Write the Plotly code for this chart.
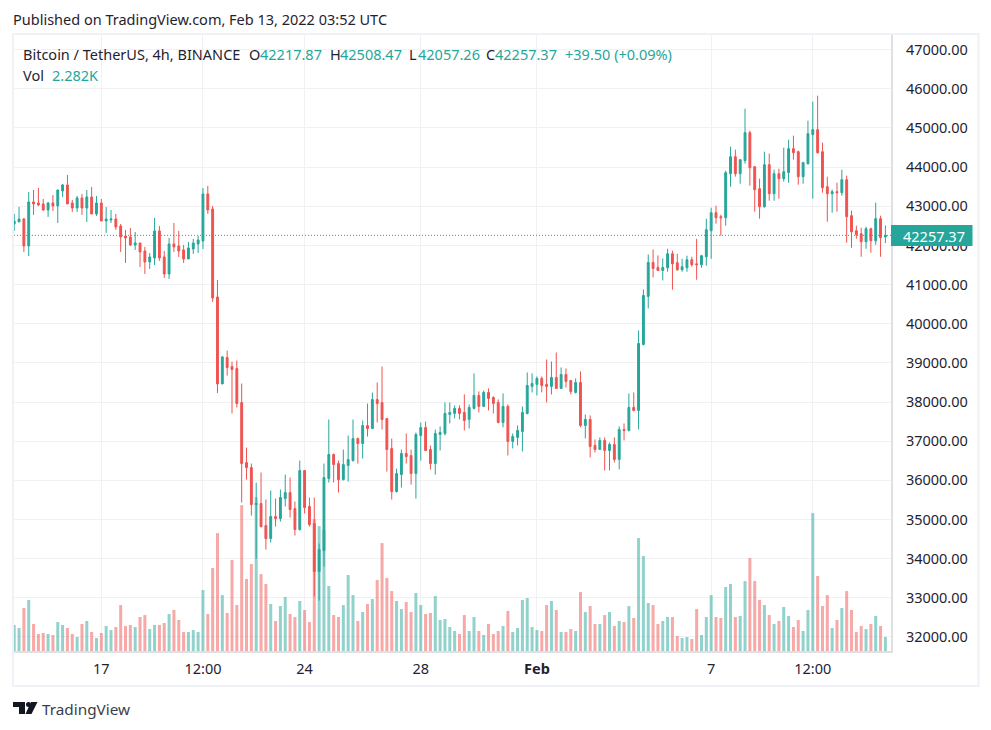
#!/usr/bin/env python3
"""BTC/USDT 4h candles with volume, TradingView snapshot look."""
import pandas as pd
import plotly.graph_objects as go

W, H = 991, 730
FONT = "Noto Sans"
TEXT = "#1f2330"
GREEN = "#26a69a"
RED = "#ef5350"
GREEN_VOL = "rgba(38,166,154,0.5)"
RED_VOL = "rgba(239,83,80,0.5)"
GRID = "#f1f1f4"
EDGE = "#dfdfe4"

first_bar = "2022-01-14 00:00"

opens = [
    42549, 42600, 42676, 41987, 43111, 43085, 43060, 42906, 43085, 43009,
    43392, 43545, 43085, 42957, 43213, 42957, 43238, 42804, 43085, 42625,
    42651, 42676, 42498, 42242, 42217, 42012, 42063, 41859, 41578, 41680,
    42370, 41706, 41272, 42038, 41987, 41885, 41655, 41910, 42038, 42115,
    43315, 42932, 40684, 38462, 39136, 38906, 38855, 37987, 36454, 36327,
    35382, 35407, 34845, 34513, 35075, 35024, 35535, 35688, 35279, 34743,
    36250, 35330, 34896, 33670, 34207, 36046, 36659, 36429, 36020, 36378,
    36505, 37067, 36940, 37399, 37323, 38063, 37987, 37578, 36812, 35714,
    36148, 36684, 36633, 36173, 37144, 37348, 36786, 36429, 37173, 37198,
    37683, 37709, 37837, 37735, 37556, 37837, 38169, 37888, 38245, 38118,
    37990, 37479, 37888, 36994, 37096, 37249, 37709, 38399, 38450, 38603,
    38450, 38399, 38628, 38348, 38705, 38552, 38245, 38501, 37402, 37556,
    36892, 36789, 37019, 36764, 36917, 36534, 37300, 37275, 37862, 37786,
    39471, 40697, 41566, 41438, 41361, 41430, 41788, 41558, 41379, 41430,
    41635, 41532, 41507, 41711, 42376, 42836, 42734, 42708, 43833, 44267,
    43833, 44165, 44881, 44012, 43449, 42989, 44063, 43322, 43833, 43705,
    43858, 44472, 44395, 43756, 44088, 44830, 44957, 44395, 43500, 43322,
    43373, 43347, 43679, 42759, 42376, 42299, 42095, 42427, 42120, 42683,
    42217.87,
]
highs = [
    42804, 42983, 42702, 43366, 43417, 43468, 43187, 43111, 43289, 43417,
    43570, 43800, 43162, 43264, 43315, 43417, 43494, 43264, 43187, 42983,
    42906, 42804, 42549, 42396, 42447, 42344, 42063, 41961, 41808, 42702,
    42498, 41859, 42191, 42574, 42370, 42012, 42089, 42166, 42242, 43468,
    43519, 43009, 41118, 39177, 39315, 39034, 39060, 38472, 36837, 36429,
    35943, 36199, 35509, 35739, 35535, 35765, 36148, 36071, 35458, 36505,
    36250, 35560, 35560, 34385, 36429, 37553, 36684, 36505, 36786, 37144,
    37553, 37093, 37527, 37961, 38242, 38498, 38906, 37578, 37067, 36301,
    36786, 37195, 36786, 37221, 37476, 37501, 36889, 37297, 37377, 37990,
    37990, 37913, 37913, 38194, 37939, 38731, 38271, 38296, 38348, 38143,
    38067, 38220, 37939, 37198, 37402, 37888, 38756, 38731, 38654, 38654,
    39088, 39037, 39267, 38884, 38858, 38552, 38603, 38782, 37683, 37658,
    37045, 37096, 37096, 36968, 37096, 37377, 37454, 38220, 38245, 39829,
    40876, 41770, 41898, 41745, 41668, 41916, 41865, 41788, 41660, 41737,
    41711, 42171, 41762, 42683, 42964, 43015, 42785, 43909, 44523, 44446,
    44191, 45494, 44932, 44012, 43705, 44395, 44344, 43935, 43961, 44497,
    44702, 44804, 44421, 44139, 45187, 45673, 45826, 44625, 43756, 43424,
    43603, 43935, 43782, 42887, 42504, 42453, 42478, 42453, 43092, 42759,
    42508.47,
]
lows = [
    42370, 42600, 41834, 41731, 42779, 43009, 42881, 42728, 42881, 42574,
    43238, 43060, 42855, 42855, 42779, 42600, 42804, 42753, 42625, 42319,
    42574, 42396, 41834, 41553, 41987, 41885, 41450, 41272, 41399, 41501,
    41604, 41170, 41144, 41834, 41706, 41553, 41655, 41783, 41808, 41910,
    42804, 40557, 38232, 38462, 38676, 37706, 37859, 35433, 36020, 35101,
    34002, 34794, 34232, 34411, 34820, 34947, 35330, 35049, 34590, 34717,
    35152, 34820, 33032, 32930, 33798, 35943, 35943, 35688, 35995, 35969,
    36480, 36429, 36557, 37118, 37323, 37476, 37297, 36224, 35509, 35688,
    35816, 36429, 35892, 35535, 36505, 36761, 36276, 36148, 36764, 37147,
    37454, 37581, 37556, 37275, 37326, 37811, 37735, 37888, 37786, 37709,
    37454, 37351, 36636, 36815, 36892, 36738, 37683, 38245, 38169, 38245,
    37990, 38194, 38348, 38348, 38373, 38194, 38220, 37351, 37070, 36585,
    36713, 36789, 36253, 36253, 36457, 36279, 37019, 37249, 37760, 37300,
    39446, 40391, 41183, 41361, 41106, 41328, 40868, 41353, 41328, 41328,
    41456, 41123, 41430, 41481, 41660, 42555, 42248, 42504, 43500, 43756,
    43577, 44088, 43526, 42861, 42683, 42964, 43143, 43143, 43194, 43628,
    43603, 44191, 43552, 43577, 44063, 43194, 44344, 43347, 42606, 42836,
    42861, 43270, 42069, 41941, 42171, 41711, 41916, 41814, 42018, 41711,
    42057.26,
]
closes = [
    42625, 42676, 41987, 43111, 43060, 43034, 42906, 43085, 43009, 43417,
    43545, 43060, 42957, 43213, 42957, 43238, 42804, 43085, 42625, 42676,
    42676, 42472, 42217, 42191, 42012, 42063, 41834, 41578, 41706, 42370,
    41680, 41272, 42038, 41961, 41859, 41655, 41936, 42063, 42140, 43315,
    42906, 40659, 38462, 39152, 38881, 38830, 37961, 36429, 36327, 35382,
    35407, 34820, 34513, 35075, 35024, 35560, 35688, 35254, 34743, 36250,
    35305, 34871, 33670, 34232, 36071, 36659, 36403, 36020, 36403, 36531,
    37067, 36940, 37399, 37323, 38063, 37961, 37553, 36786, 35714, 36173,
    36684, 36608, 36173, 37170, 37348, 36761, 36429, 37195, 37224, 37709,
    37735, 37837, 37709, 37530, 37862, 38169, 37888, 38245, 38092, 37964,
    37479, 37888, 36994, 37122, 37275, 37735, 38424, 38475, 38603, 38424,
    38399, 38628, 38348, 38705, 38526, 38271, 38501, 37402, 37556, 36866,
    36789, 37019, 36764, 36917, 36534, 37300, 37275, 37862, 37786, 39497,
    40723, 41566, 41413, 41361, 41438, 41788, 41532, 41379, 41456, 41635,
    41507, 41507, 41737, 42401, 42836, 42708, 42708, 43858, 44267, 43833,
    44191, 44881, 43986, 43424, 42989, 44063, 43322, 43833, 43705, 43884,
    44472, 44370, 43756, 44114, 44855, 44957, 44370, 43475, 43322, 43373,
    43347, 43679, 42734, 42350, 42274, 42095, 42427, 42120, 42683, 42197,
    42257.37,
]
# volume in thousands of BTC
volumes = [
    4.24, 3.75, 7.00, 8.31, 4.40, 2.77, 2.93, 2.77, 2.61, 4.72,
    4.24, 3.75, 2.77, 2.28, 4.40, 4.89, 3.10, 2.12, 2.93, 4.07,
    3.42, 3.91, 7.49, 4.07, 4.24, 3.91, 5.54, 5.86, 3.58, 4.24,
    4.24, 4.56, 6.03, 6.68, 5.05, 3.10, 3.10, 3.42, 3.10, 9.94,
    6.03, 13.52, 19.22, 9.12, 6.19, 14.82, 7.49, 23.78, 11.73, 14.17,
    25.09, 12.54, 10.91, 7.66, 4.89, 7.33, 8.80, 6.03, 5.54, 8.15,
    6.68, 4.72, 21.50, 20.36, 19.71, 10.59, 5.86, 5.54, 7.49, 12.38,
    9.12, 4.89, 6.35, 7.66, 8.47, 11.57, 17.59, 11.89, 9.77, 8.15,
    6.84, 7.98, 6.35, 9.45, 7.49, 6.03, 6.19, 8.96, 5.05, 5.21,
    3.91, 3.26, 2.77, 5.86, 3.26, 5.54, 3.26, 2.61, 4.40, 2.77,
    3.26, 4.07, 6.52, 3.10, 3.75, 8.31, 8.63, 3.91, 3.42, 3.26,
    7.49, 8.15, 6.68, 3.10, 3.10, 3.58, 3.26, 9.61, 6.35, 7.33,
    4.40, 4.40, 5.86, 6.35, 4.07, 4.89, 4.72, 7.33, 5.38, 18.41,
    15.48, 7.82, 7.49, 4.40, 4.89, 5.54, 5.54, 2.44, 2.12, 2.28,
    1.95, 6.84, 2.61, 5.54, 9.12, 5.54, 5.38, 10.43, 10.91, 5.54,
    5.70, 11.40, 15.15, 11.40, 8.31, 7.49, 5.86, 4.40, 4.89, 7.17,
    5.70, 3.91, 5.05, 3.26, 6.68, 22.48, 12.22, 7.33, 9.12, 3.75,
    5.05, 7.00, 9.77, 6.68, 3.10, 4.07, 3.58, 4.40, 5.70, 4.07,
    2.28,
]
tick_dates = ["2022-01-17 00:00", "2022-01-20 12:00", "2022-01-24 00:00", "2022-01-28 00:00",
              "2022-02-01 00:00", "2022-02-07 00:00", "2022-02-10 12:00"]
tick_labels = ["17", "12:00", "24", "28", "<b>Feb</b>", "7", "12:00"]
price_range = [31641, 47375]
volume_range = [0, 100.4]
time_range = ["2022-01-13 23:50", "2022-02-13 04:38"]


def px(x):
    return x / W


def py(y):
    return 1 - y / H


def label(x, y, text, color=TEXT, size=14.5):
    # annotations carry about 2px of padding on the left
    return dict(xref="paper", yref="paper", x=px(x - 2), y=py(y), text=text, showarrow=False,
                xanchor="left", yanchor="middle", align="left",
                font=dict(family=FONT, size=size, color=color))


def box(x0, y0, x1, y1, **kw):
    return dict(type="rect", xref="paper", yref="paper", x0=px(x0), y0=py(y0), x1=px(x1), y1=py(y1), **kw)


def poly(points, color):
    path = "M " + " L ".join(f"{px(a):.5f},{py(b):.5f}" for a, b in points) + " Z"
    return dict(type="path", xref="paper", yref="paper", path=path,
                fillcolor=color, line=dict(width=0))


times = pd.date_range(first_bar, periods=len(closes), freq="4h")
vol_colors = [GREEN_VOL if c >= o else RED_VOL for o, c in zip(opens, closes)]

fig = go.Figure()
fig.add_trace(go.Bar(x=times, y=volumes, marker=dict(color=vol_colors, line=dict(width=0)),
                     yaxis="y", hoverinfo="skip"))
fig.add_trace(go.Candlestick(
    x=times, open=opens, high=highs, low=lows, close=closes, yaxis="y2",
    increasing=dict(line=dict(color=GREEN, width=1), fillcolor=GREEN),
    decreasing=dict(line=dict(color=RED, width=1), fillcolor=RED),
))

shapes = [
    # outer frame
    box(13, 34, 978.5, 686, line=dict(color="#f0f0f7", width=2), layer="below"),
    # last price line and tag
    dict(type="line", xref="paper", yref="y2", x0=px(14), x1=px(891), y0=closes[-1], y1=closes[-1],
         line=dict(color=GREEN, width=1, dash="1px,2px")),
    box(891, 225, 972.5, 246, fillcolor=GREEN, line=dict(width=0)),
    # TradingView mark
    poly([(13, 702), (25, 702), (25, 714), (19, 714), (19, 707), (13, 707)], "#131722"),
    dict(type="circle", xref="paper", yref="paper", x0=px(26), x1=px(31), y0=py(707), y1=py(702),
         fillcolor="#131722", line=dict(width=0)),
    poly([(31, 702), (37.5, 702), (31.5, 714), (25.5, 714)], "#131722"),
]

annotations = [
    label(13, 19, "Published on TradingView.com, Feb 13, 2022 03:52 UTC"),
    label(23, 54, "Bitcoin / TetherUS, 4h, BINANCE"),
    label(249, 54, "O"),
    label(260, 54, f"{opens[-1]:.2f}", GREEN),
    label(330, 54, "H"),
    label(340, 54, f"{highs[-1]:.2f}", GREEN),
    label(409, 54, "L"),
    label(418, 54, f"{lows[-1]:.2f}", GREEN),
    label(486, 54, "C"),
    label(495, 54, f"{closes[-1]:.2f}", GREEN),
    label(565, 54, "+39.50 (+0.09%)", GREEN),
    label(23, 75, "Vol"),
    label(52, 75, "2.282K", GREEN),
    label(903, 236, f"{closes[-1]:.2f}", "#ffffff"),
    label(42, 708.5, "TradingView", "#3a3e4a", size=15.3),
]

fig.update_layout(
    width=W, height=H,
    margin=dict(l=0, r=0, t=0, b=0),
    paper_bgcolor="white", plot_bgcolor="white",
    showlegend=False, bargap=0.38, boxgap=0.45,
    xaxis=dict(
        domain=[px(14), px(891)], range=time_range, type="date",
        rangeslider=dict(visible=False),
        tickmode="array", tickvals=tick_dates, ticktext=tick_labels,
        tickfont=dict(family=FONT, size=14.5, color=TEXT), ticks="", ticklabelstandoff=4,
        showgrid=True, gridcolor=GRID, gridwidth=1,
        showline=True, linecolor=EDGE, linewidth=2, zeroline=False,
    ),
    yaxis=dict(
        domain=[py(651), py(35)], range=volume_range, visible=False, fixedrange=True,
    ),
    yaxis2=dict(
        overlaying="y", side="right", anchor="x", range=price_range,
        tickmode="linear", tick0=32000, dtick=1000, tickformat=".2f",
        tickfont=dict(family=FONT, size=14.5, color=TEXT), ticks="", ticklabelstandoff=10,
        showgrid=True, gridcolor=GRID, gridwidth=1,
        showline=True, linecolor=EDGE, linewidth=2, zeroline=False,
    ),
    shapes=shapes, annotations=annotations,
)

fig.write_html("out.html", config=dict(displayModeBar=False),
               post_script="document.body.style.margin='0';")
